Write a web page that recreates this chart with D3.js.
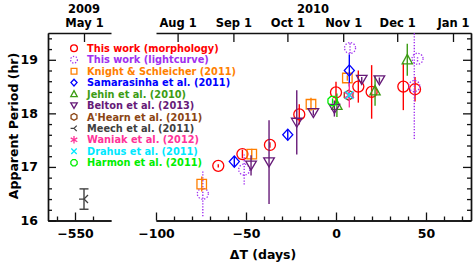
<!DOCTYPE html>
<html><head><meta charset="utf-8">
<script src="https://cdn.jsdelivr.net/npm/d3@7"></script>
<style>
body{margin:0;background:#fff}
svg{display:block}
text{font-family:"DejaVu Sans",sans-serif;font-weight:bold}
</style>
</head><body>
<svg id="c" width="474" height="265"></svg>
<script>
// ---- data (ΔT in days from perihelion, apparent period in hours, 1σ error) ----
const seriesNames = ["This work (morphology)","This work (lightcurve)","Knight & Schleicher (2011)",
  "Samarasinha et al. (2011)","Jehin et al. (2010)","Belton et al. (2013)","A'Hearn et al. (2011)",
  "Meech et al. (2011)","Waniak et al. (2012)","Drahus et al. (2011)","Harmon et al. (2011)"];

const morphDT  = [-65.4, -52, -36.7, -20.4, 0, 12.4, 19.8, 37.4, 43.9];
const morphP   = [17.02, 17.24, 17.41, 17.98, 18.39, 18.50, 18.40, 18.50, 18.45];
const morphErr = [0.03, 0.08, 0.05, 0.19, 0.20, 0.30, 0.50, 0.44, 0.23];

const lcDT  = [-74, -51, 7.8, 43.5, 45.3];
const lcP   = [16.50, 16.95, 19.22, 18.51, 19.02];
const lcErr = [0.42, 0.28, 0.10, 0.99, 0.05];

const ksDT  = [-74.6, -46.8, -13.9, 6.3];
const ksP   = [16.68, 17.24, 18.17, 18.66];
const ksErr = [0.14, 0.10, 0.12, 0.05];

const samDT  = [-56.5, -26.8, 7.4];
const samP   = [17.10, 17.60, 18.80];
const samErr = [0.10, 0.10, 0.30];

const jehDT  = [0.5, 21.7, 39.6];
const jehP   = [18.15, 18.42, 19.00];
const jehErr = [0.22, 0.28, 0.30];

const belDT  = [-47.2, -37.2, -21.8, -12.6, -0.9, 14.3, 24.1];
const belP   = [17.03, 17.09, 17.83, 18.01, 18.09, 18.63, 18.62];
const belErr = [0.19, 0.78, 0.60, 0.05, 0.15, 0.05, 0.05];

const ahDT  = [7.0];
const ahP   = [18.34];
const ahErr = [0.05];

const meechDT  = [-545];
const meechP   = [16.40];
const meechErr = [0.19];

const wanDT  = [7.4];
const wanP   = [18.34];
const wanErr = [0.23];

const draDT  = [7.4];
const draP   = [18.34];
const draErr = [0.04];

const harDT  = [-1.9];
const harP   = [18.23];
const harErr = [0.05];

const yMajor = [16, 17, 18, 19];
const xMajorRight = [-100, -50, 0, 50];
const xMajorLeft = [-550];
const monthDT = [-88, -57, -27, 4, 34, 65];
const monthLabels = ["Aug 1","Sep 1","Oct 1","Nov 1","Dec 1","Jan 1"];
const leftMonthDT = [-545];
const leftMonthLabels = ["May 1"];
const yearLabels = ["2009","2010"];

// ---- styles ----
const colors = ["#ff0000","#a030f0","#ff7f00","#0000ff","#3c9c14","#661a78","#8b4513","#404040","#ff3399","#00e8ff","#00ee00"];
const shapes = ["circle","dotcircle","square","diamond","triUp","triDown","hex","triLeft","asterisk","cross","octagon"];

const series = [
  [morphDT,morphP,morphErr],[lcDT,lcP,lcErr],[ksDT,ksP,ksErr],[samDT,samP,samErr],
  [jehDT,jehP,jehErr],[belDT,belP,belErr],[ahDT,ahP,ahErr],[meechDT,meechP,meechErr],
  [wanDT,wanP,wanErr],[draDT,draP,draErr],[harDT,harP,harErr]
].map((s,i)=>({name:seriesNames[i],color:colors[i],shape:shapes[i],
  pts:s[0].map((d,j)=>({dt:d,p:s[1][j],e:s[2][j]}))}));

const svg = d3.select("#c");
const xL = d3.scaleLinear().domain([-565,-530]).range([48,111]);
const xR = d3.scaleLinear().domain([-100,75]).range([156,471]);
const y  = d3.scaleLinear().domain([16,19.5]).range([220.5,33]);
const xOf = d => d < -200 ? xL(d) : xR(d);

const axCol = "#111";
function styleAxis(g, fs){
  g.selectAll("path").attr("stroke",axCol).attr("stroke-width",1.4);
  g.selectAll("line").attr("stroke",axCol).attr("stroke-width",1.3);
  g.selectAll("text").attr("fill","#000").style("font-size",fs+"px").style("font-family",'"DejaVu Sans",sans-serif').style("font-weight","bold");
}
const yMinor = d3.range(16,19.51,0.2).filter(v=>Math.abs(v-Math.round(v))>0.01);
const isMaj = v=>Math.abs(v-Math.round(v))<0.01;

// left y axis
let g = svg.append("g").attr("transform","translate(48,0)")
  .call(d3.axisLeft(y).tickValues(yMajor).tickSizeInner(-8).tickSizeOuter(0).tickPadding(10).tickFormat(d3.format("d")));
styleAxis(g,12.5);
g = svg.append("g").attr("transform","translate(48,0)")
  .call(d3.axisLeft(y).tickValues(yMinor).tickSizeInner(-4).tickSizeOuter(0).tickFormat(""));
styleAxis(g,12);
// right y axis
g = svg.append("g").attr("transform","translate(471,0)")
  .call(d3.axisRight(y).tickValues(yMajor).tickSizeInner(-8).tickSizeOuter(0).tickFormat(""));
styleAxis(g,12);
g = svg.append("g").attr("transform","translate(471,0)")
  .call(d3.axisRight(y).tickValues(yMinor).tickSizeInner(-4).tickSizeOuter(0).tickFormat(""));
styleAxis(g,12);

// bottom axes
g = svg.append("g").attr("transform","translate(0,220.5)")
  .call(d3.axisBottom(xL).tickValues(xMajorLeft).tickSizeInner(-8).tickSizeOuter(0).tickPadding(9).tickFormat(d=>d3.format("d")(d).replace("-","\u2212")));
styleAxis(g,12.5);
g = svg.append("g").attr("transform","translate(0,220.5)")
  .call(d3.axisBottom(xL).tickValues([-560,-540]).tickSizeInner(-4).tickSizeOuter(0).tickFormat(""));
styleAxis(g,12);
g = svg.append("g").attr("transform","translate(0,220.5)")
  .call(d3.axisBottom(xR).tickValues(xMajorRight).tickSizeInner(-8).tickSizeOuter(0).tickPadding(9).tickFormat(d=>d3.format("d")(d).replace("-","\u2212")));
styleAxis(g,12.5);
g = svg.append("g").attr("transform","translate(0,220.5)")
  .call(d3.axisBottom(xR).tickValues(d3.range(-90,71,10).filter(v=>v%50!==0)).tickSizeInner(-4).tickSizeOuter(0).tickFormat(""));
styleAxis(g,12);

// top axes (calendar dates)
g = svg.append("g").attr("transform","translate(0,33)")
  .call(d3.axisTop(xL).tickValues(leftMonthDT).tickSizeInner(-9).tickSizeOuter(0).tickPadding(6).tickFormat((d,i)=>leftMonthLabels[i]));
styleAxis(g,11.5);
g = svg.append("g").attr("transform","translate(0,33)")
  .call(d3.axisTop(xR).tickValues(monthDT).tickSizeInner(-9).tickSizeOuter(0).tickPadding(6).tickFormat((d,i)=>monthLabels[i]));
styleAxis(g,11.5);
svg.append("text").attr("x",xL(-545)).attr("y",13).attr("text-anchor","middle").style("font-size","11.5px").text(yearLabels[0]);
svg.append("text").attr("x",313).attr("y",13).attr("text-anchor","middle").style("font-size","11.5px").text(yearLabels[1]);

// axis titles
svg.append("text").attr("transform","translate(18,126) rotate(-90)").attr("text-anchor","middle")
  .style("font-size","12.5px").text("Apparent Period (hr)");
svg.append("text").attr("x",263).attr("y",259).attr("text-anchor","middle")
  .style("font-size","12.5px").text("\u0394T (days)");

// ---- markers ----
function marker(sel, shape, color, s){
  const sw = 1.3;
  const pathAttr = p => sel.append("path").attr("d",p).attr("fill","none").attr("stroke",color).attr("stroke-width",sw);
  switch(shape){
    case "circle": sel.append("circle").attr("r",s).attr("fill","none").attr("stroke",color).attr("stroke-width",sw); break;
    case "dotcircle": sel.append("circle").attr("r",s).attr("fill","none").attr("stroke",color).attr("stroke-width",sw).attr("stroke-dasharray","1.3,1.6"); break;
    case "square": pathAttr(`M${-s*0.85},${-s*0.85}H${s*0.85}V${s*0.85}H${-s*0.85}Z`); break;
    case "diamond": pathAttr(`M0,${-s}L${s*0.9},0L0,${s}L${-s*0.9},0Z`); break;
    case "triUp": pathAttr(`M0,${-s}L${s*0.95},${s*0.75}L${-s*0.95},${s*0.75}Z`); break;
    case "triDown": pathAttr(`M0,${s*0.85}L${s*0.95},${-s*0.75}L${-s*0.95},${-s*0.75}Z`); break;
    case "hex": case "octagon": {
      const n = shape==="hex"?6:8; const pts=d3.range(n).map(k=>{const a=2*Math.PI*k/n+Math.PI/n; return [s*Math.cos(a),s*Math.sin(a)];});
      pathAttr("M"+pts.map(p=>p.join(",")).join("L")+"Z"); break; }
    case "triLeft": pathAttr(`M${-s},0L0,0M0,0L${s*0.8},${-s*0.8}M0,0L${s*0.8},${s*0.8}`); break;
    case "asterisk": { let d=""; for(let k=0;k<3;k++){const a=Math.PI/2+k*Math.PI/3; d+=`M${s*Math.cos(a)},${s*Math.sin(a)}L${-s*Math.cos(a)},${-s*Math.sin(a)}`;} pathAttr(d); break; }
    case "cross": pathAttr(`M${-s*0.8},${-s*0.8}L${s*0.8},${s*0.8}M${-s*0.8},${s*0.8}L${s*0.8},${-s*0.8}`); break;
  }
}
const markSize = {circle:5.5,dotcircle:5.5,square:5.6,diamond:5.6,triUp:5.4,triDown:5.6,hex:5,triLeft:5,asterisk:5.5,cross:5,octagon:5};

const plot = svg.append("g");
series.forEach(s=>{
  const sg = plot.append("g");
  s.pts.forEach(p=>{
    const x = xOf(p.dt);
    const ln = sg.append("line").attr("x1",x).attr("x2",x).attr("y1",y(p.p-p.e)).attr("y2",y(p.p+p.e))
      .attr("stroke",s.color).attr("stroke-width",1.4);
    if(s.shape==="dotcircle") ln.attr("stroke-dasharray","1.3,1.6");
    if(s.shape==="triLeft"){
      [p.p-p.e,p.p+p.e].forEach(v=>sg.append("line").attr("x1",x-4.5).attr("x2",x+4.5).attr("y1",y(v)).attr("y2",y(v))
        .attr("stroke",s.color).attr("stroke-width",1.4));
    }
    const mg = sg.append("g").attr("transform",`translate(${x},${y(p.p)})`);
    marker(mg, s.shape, s.color, markSize[s.shape]);
  });
});

// ---- legend ----
const leg = svg.append("g");
series.forEach((s,i)=>{
  const cy = 48.3 + i*11.44;
  const mg = leg.append("g").attr("transform",`translate(74,${cy})`);
  marker(mg, s.shape, s.color, s.shape==="asterisk"?3.8:3.4);
  leg.append("text").attr("x",87).attr("y",cy+3.6).attr("fill",s.color).style("font-size","9.8px").text(s.name);
});
</script>
</body></html>
